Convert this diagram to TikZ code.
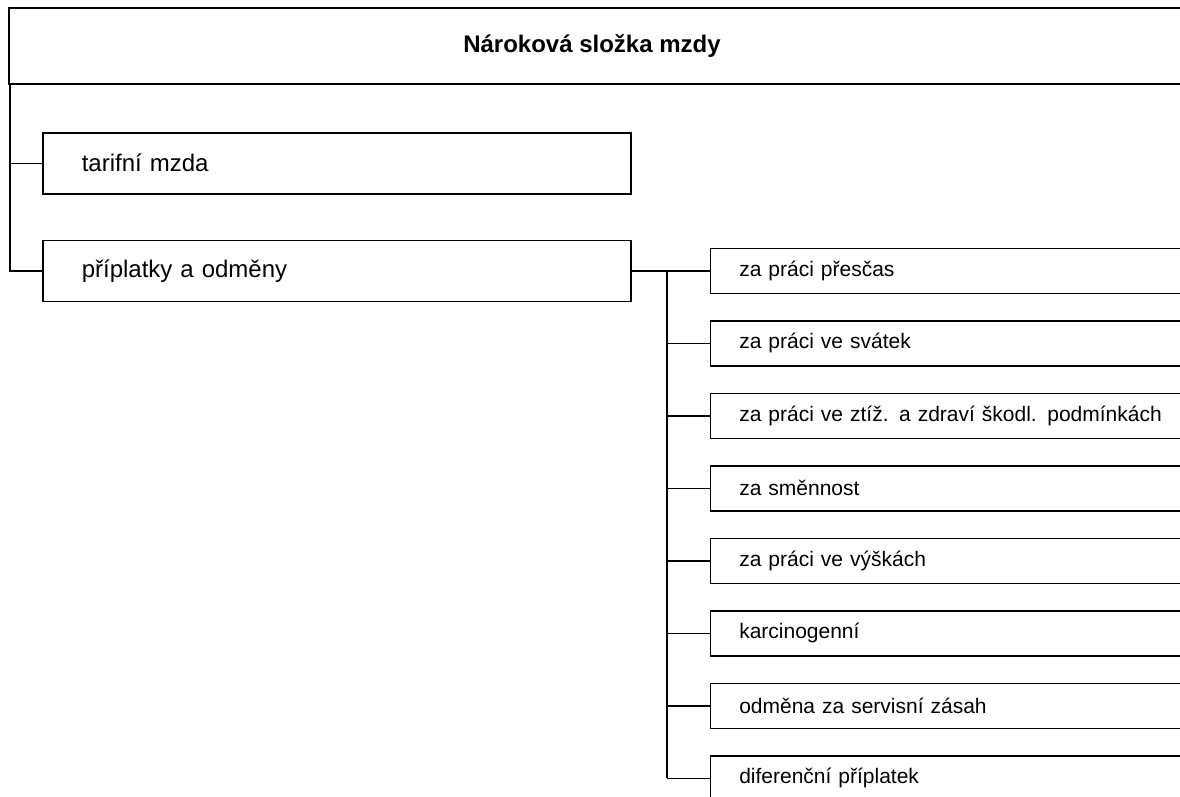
\documentclass[tikz,border=0pt]{standalone}
\usepackage{fontspec}
\setmainfont{Liberation Sans}
\usepackage{tikz}
\usetikzlibrary{positioning}

\begin{document}
\begin{tikzpicture}[x=1pt, y=-1pt,
	line/.style={line width=1.5pt, draw=black},
	titlenode/.style={font=\fontsize{24}{28}\selectfont\bfseries},
	mainnode/.style={rectangle, line, minimum width=588pt, minimum height=61pt, text width=510pt, inner xsep=39pt, align=left, font=\fontsize{24}{28}\selectfont},
	subnode/.style={rectangle, line, minimum width=520pt, minimum height=45pt, text width=462pt, inner xsep=29pt, align=left, font=\fontsize{21}{25}\selectfont},
	]
	\clip (0,0) rectangle (1180,796);
	%Nodes
	\draw[line] (1200,8) -| (9,84) -- (1200,84);
	\node[titlenode](root) at (592,46){Nároková složka mzdy};
	\coordinate (rootcorner) at (10,84);

	\node[mainnode](tarif)[anchor=north west] at (42,132){tarifní mzda};
	\node[mainnode](priplatky)[below=45pt of tarif]{příplatky a odměny};

	\node[subnode](prescas)[right=78pt of priplatky]{za práci přesčas};
	\node[subnode](svatek)[below=26pt of prescas]{za práci ve svátek};
	\node[subnode](ztiz)[below=26pt of svatek]{za práci ve ztíž. a zdraví škodl. podmínkách};
	\node[subnode](smennost)[below=26pt of ztiz]{za směnnost};
	\node[subnode](vysky)[below=26pt of smennost]{za práci ve výškách};
	\node[subnode](karcin)[below=26pt of vysky]{karcinogenní};
	\node[subnode](servis)[below=26pt of karcin]{odměna za servisní zásah};
	\node[subnode](diferencni)[below=26pt of servis]{diferenční příplatek};
	\coordinate (bus) at (667,0);

	%Lines
	\draw[line] (rootcorner) |- (tarif.west);
	\draw[line] (rootcorner) |- (priplatky.west);
	\draw[line] (priplatky.east) -- (prescas.west);
	\draw[line] (bus |- prescas.west) -- (bus |- diferencni.west);
	\draw[line] (bus |- svatek.west) -- (svatek.west);
	\draw[line] (bus |- ztiz.west) -- (ztiz.west);
	\draw[line] (bus |- smennost.west) -- (smennost.west);
	\draw[line] (bus |- vysky.west) -- (vysky.west);
	\draw[line] (bus |- karcin.west) -- (karcin.west);
	\draw[line] (bus |- servis.west) -- (servis.west);
	\draw[line] (bus |- diferencni.west) -- (diferencni.west);

\end{tikzpicture}
\end{document}
